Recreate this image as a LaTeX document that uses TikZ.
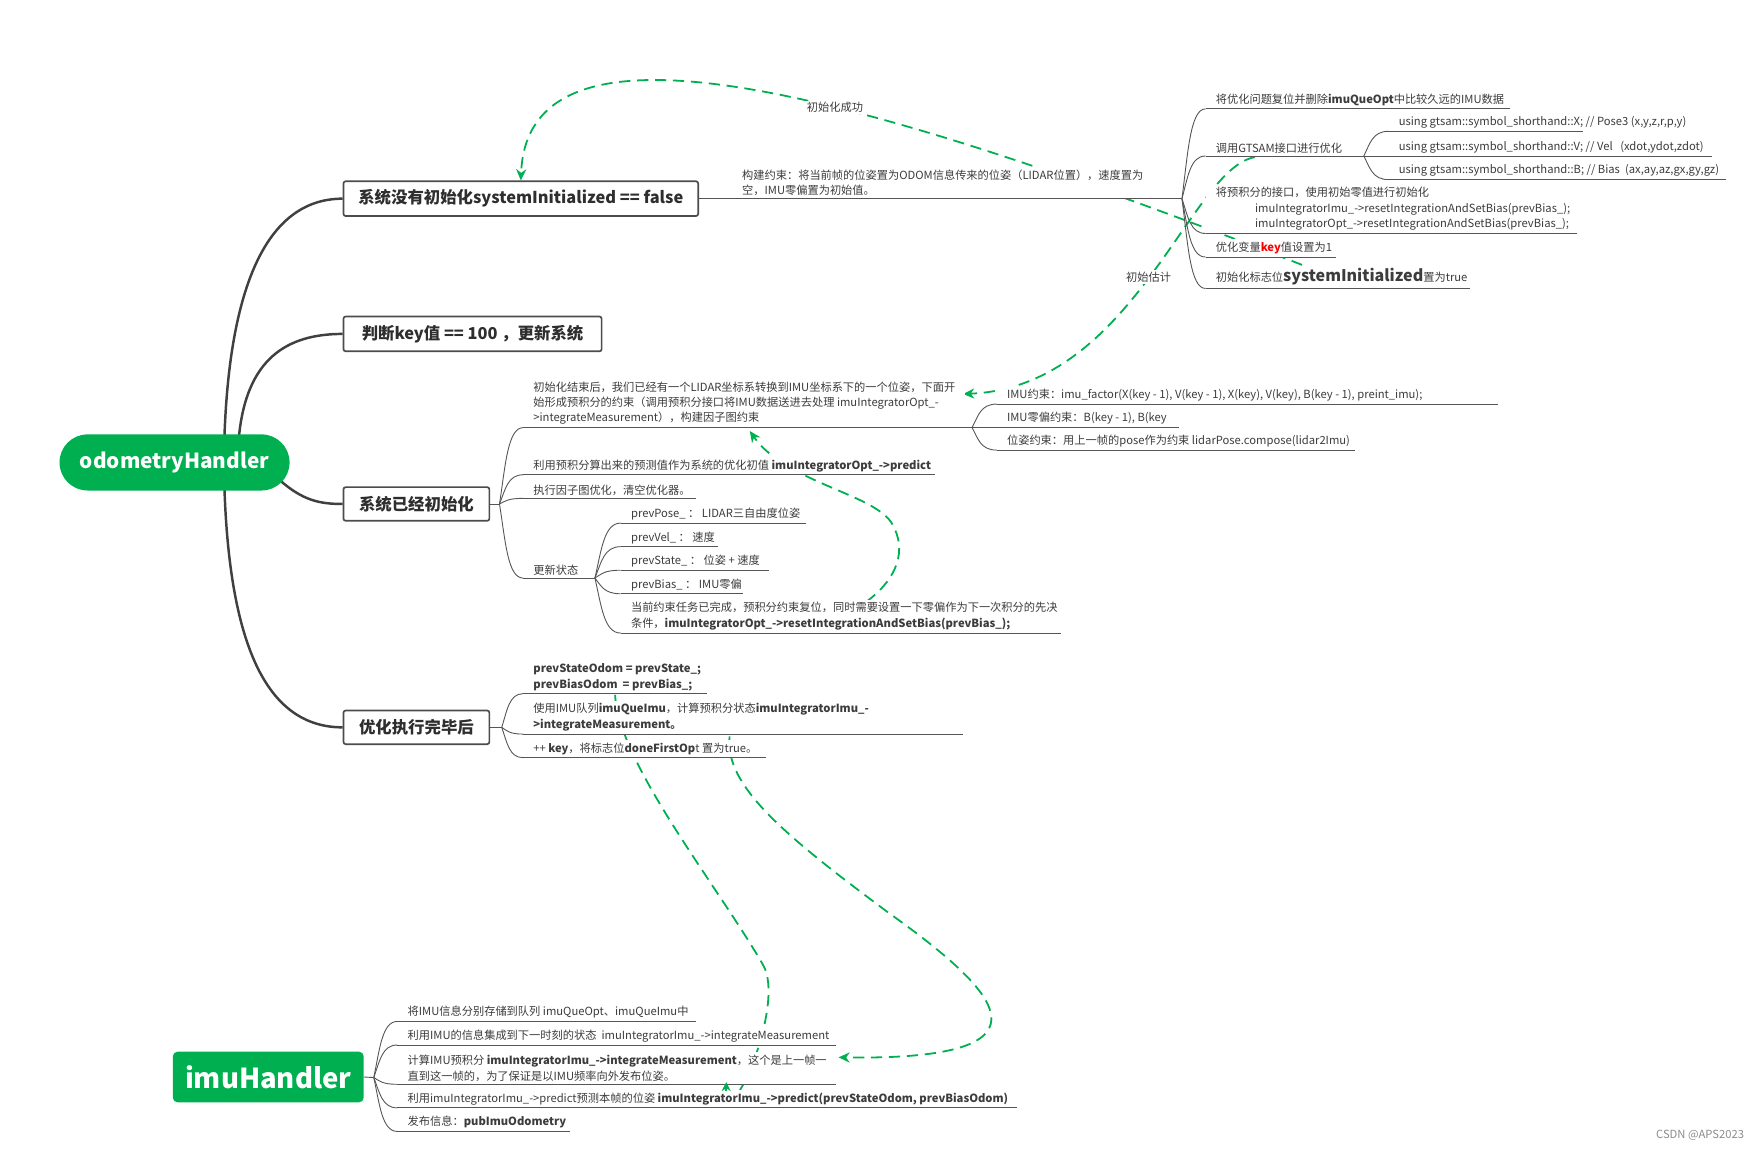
\documentclass[tikz,border=0pt]{standalone}
\usepackage{fontspec}
\setmainfont{Noto Sans CJK SC}
\usetikzlibrary{arrows.meta,calc}
\definecolor{xgreen}{RGB}{0,176,80}
\definecolor{tgray}{RGB}{60,60,60}
\definecolor{lgray}{RGB}{85,85,85}
\pgfdeclarelayer{bg}
\pgfsetlayers{bg,main}
\newcommand\fsn{\fontsize{10}{13.7}\selectfont}
\newcommand\mkleaf[5]{%
  \node[leafnode] (#1) at (#2,#3) {#5};
  \draw[uline] (#1.south west) -- ++(#4-#2,0);}
\tikzset{
  leafnode/.style={anchor=south west, inner xsep=9pt, inner ysep=2.5pt, align=left, fill=white, font=\fsn, text=tgray},
  uline/.style={draw=lgray, line width=0.8pt},
  fan/.style={to path={let \p1=(\tikztostart), \p2=(\tikztotarget) in
     .. controls ({\x1+0.25*(\x2-\x1)},{\y1+0.5*(\y2-\y1)}) and ({\x1+0.35*(\x2-\x1)},\y2) .. (\tikztotarget)}},
  tl/.style={draw=lgray, line width=0.8pt},
  l1line/.style={draw=black!75, line width=2.2pt},
  l1box/.style={draw=black!70, line width=1.5pt, fill=white, rounded corners=2pt,
     font=\fontsize{14.6}{18}\selectfont\bfseries, text=black!82, inner sep=0pt},
  reltip/.style={-{Stealth[length=10pt,width=9pt]}},
  rel/.style={draw=xgreen, line width=1.6pt, dash pattern=on 10pt off 6pt},
  rlabel/.style={fill=white, font=\fsn, text=tgray, inner sep=1.5pt},
}
\begin{document}
\begin{tikzpicture}[x=1pt,y=-1pt]
\useasboundingbox (0,0) rectangle (1568,1024);

% main topics
\node[fill=xgreen, rounded corners=25pt, minimum width=205pt, minimum height=50pt, text=white,
      font=\fontsize{18.5}{22}\selectfont\bfseries, inner sep=0pt] (p) at (155.5,412) {odometryHandler};
\node[fill=xgreen, rounded corners=4pt, minimum width=170pt, minimum height=45pt, text=white,
      font=\fontsize{24.5}{28}\selectfont\bfseries, inner sep=0pt] (imu) at (239,959.5) {imuHandler};

\node[l1box, minimum width=316pt, minimum height=31pt] (b1) at (464,177) {系统没有初始化systemInitialized == false};
\node[l1box, minimum width=230pt, minimum height=31pt] (b2) at (421,297.5) {判断key值 == 100 ，更新系统};
\node[l1box, minimum width=130pt, minimum height=30pt] (b3) at (371,449) {系统已经初始化};
\node[l1box, minimum width=130pt, minimum height=30pt] (b4) at (371,648) {优化执行完毕后};

% junctions
\coordinate (J1) at (1053,177);
\coordinate (J12) at (1215,139);
\coordinate (J3) at (445,449);
\coordinate (JA) at (866,381);
\coordinate (JD) at (530,515);
\coordinate (J4) at (447,648);
\coordinate (J5) at (333,960);

% branch of b1
\node[leafnode] (n0) at (652,177) {构建约束：将当前帧的位姿置为ODOM信息传来的位姿（LIDAR位置），速度置为\\空，IMU零偏置为初始值。};
\mkleaf{n11}{1074}{97}{1345}{将优化问题复位并删除\textbf{imuQueOpt}中比较久远的IMU数据}
\mkleaf{n12}{1074}{139}{1215}{调用GTSAM接口进行优化}
\mkleaf{n121}{1237}{117}{1410}{using gtsam::symbol\_shorthand::X; // Pose3 (x,y,z,r,p,y)}
\mkleaf{n122}{1237}{139}{1525}{using gtsam::symbol\_shorthand::V; // Vel\ \ \ (xdot,ydot,zdot)}
\mkleaf{n123}{1237}{160}{1538}{using gtsam::symbol\_shorthand::B; // Bias\ \ (ax,ay,az,gx,gy,gz)}
\mkleaf{n13}{1074}{208}{1405}{将预积分的接口，使用初始零值进行初始化\\\hspace*{35pt}imuIntegratorImu\_->resetIntegrationAndSetBias(prevBias\_);\\\hspace*{35pt}imuIntegratorOpt\_->resetIntegrationAndSetBias(prevBias\_);}
\mkleaf{n14}{1074}{229}{1190}{优化变量\textcolor{red}{\textbf{key}}值设置为1}
\mkleaf{n15}{1074}{257}{1310}{初始化标志位{\fontsize{14.3}{16}\selectfont\bfseries systemInitialized}置为true}

% branch of b3
\mkleaf{nA}{466}{381}{866}{初始化结束后，我们已经有一个LIDAR坐标系转换到IMU坐标系下的一个位姿，下面开\\始形成预积分的约束（调用预积分接口将IMU数据送进去处理 imuIntegratorOpt\_-\\>integrateMeasurement），构建因子图约束}
\mkleaf{nA1}{888}{360}{1335}{IMU约束：imu\_factor(X(key - 1), V(key - 1), X(key), V(key), B(key - 1), preint\_imu);}
\mkleaf{nA2}{888}{381}{1050}{IMU零偏约束：B(key - 1), B(key}
\mkleaf{nA3}{888}{401}{1207}{位姿约束：用上一帧的pose作为约束 lidarPose.compose(lidar2Imu)}
\mkleaf{nB}{466}{423}{833}{利用预积分算出来的预测值作为系统的优化初值 \textbf{imuIntegratorOpt\_->predict}}
\mkleaf{nC}{466}{444}{620}{执行因子图优化，清空优化器。}
\mkleaf{nD}{466}{515}{530}{更新状态}
\mkleaf{nD1}{553}{466}{718}{prevPose\_ ：\ LIDAR三自由度位姿}
\mkleaf{nD2}{553}{487}{640}{prevVel\_ ：\ 速度}
\mkleaf{nD3}{553}{508}{685}{prevState\_ ：\ 位姿 + 速度}
\mkleaf{nD4}{553}{529}{662}{prevBias\_ ：\ IMU零偏}
\mkleaf{nD5}{553}{564}{945}{当前约束任务已完成，预积分约束复位，同时需要设置一下零偏作为下一次积分的先决\\条件，\textbf{imuIntegratorOpt\_->resetIntegrationAndSetBias(prevBias\_);}}

% branch of b4
\mkleaf{nE1}{466}{618}{630}{\textbf{prevStateOdom = prevState\_;}\\\textbf{prevBiasOdom\ \ = prevBias\_;}}
\mkleaf{nE2}{466}{654}{858}{使用IMU队列\textbf{imuQueImu}，计算预积分状态\textbf{imuIntegratorImu\_-}\\\textbf{>integrateMeasurement。}}
\mkleaf{nE3}{466}{675}{682}{++ \textbf{key}，将标志位\textbf{doneFirstOp}t 置为true。}

% imuHandler branch
\mkleaf{nF1}{354}{910}{620}{将IMU信息分别存储到队列 imuQueOpt、imuQueImu中}
\mkleaf{nF2}{354}{931}{745}{利用IMU的信息集成到下一时刻的状态\ \ imuIntegratorImu\_->integrateMeasurement}
\mkleaf{nF3}{354}{966}{745}{计算IMU预积分 \textbf{imuIntegratorImu\_->integrateMeasurement}，这个是上一帧一\\直到这一帧的，为了保证是以IMU频率向外发布位姿。}
\mkleaf{nF4}{354}{987}{906}{利用imuIntegratorImu\_->predict预测本帧的位姿 \textbf{imuIntegratorImu\_->predict(prevStateOdom, prevBiasOdom)}}
\mkleaf{nF5}{354}{1008}{508}{发布信息：\textbf{pubImuOdometry}}

\node[font=\fontsize{10}{11}\selectfont, text=black!45, anchor=east, inner sep=0pt] (wm) at (1554,1011) {CSDN @APS2023};

% tree lines
\draw[tl] (b1.east) -- (n0.south west) -- (J1);
\foreach \q in {n11,n12,n13,n14,n15} \draw[tl] (J1) to[fan] (\q.south west);
\foreach \q in {n121,n122,n123} \draw[tl] (J12) to[fan] (\q.south west);
\draw[tl] (b3.east) -- (J3);
\foreach \q in {nA,nB,nC,nD} \draw[tl] (J3) to[fan] (\q.south west);
\foreach \q in {nA1,nA2,nA3} \draw[tl] (JA) to[fan] (\q.south west);
\foreach \q in {nD1,nD2,nD3,nD4,nD5} \draw[tl] (JD) to[fan] (\q.south west);
\draw[tl] (b4.east) -- (J4);
\foreach \q in {nE1,nE2,nE3} \draw[tl] (J4) to[fan] (\q.south west);
\draw[tl] (imu.east) -- (J5);
\foreach \q in {nF1,nF2,nF3,nF4,nF5} \draw[tl] (J5) to[fan] (\q.south west);

% visible arrow head of the relation ending under nF3
\draw[rel, -{Stealth[length=8pt,width=8pt]}, dash pattern=] ([shift={(293,6)}]nF3.south west) -- ([shift={(293,-2)}]nF3.south west);

\begin{pgfonlayer}{bg}
% main connectors
\draw[l1line] ([shift={(44.5,1)}]p.north) .. controls (205,250) and (240,177) .. (b1.west);
\draw[l1line] ([shift={(57.5,1)}]p.north) .. controls (220,320) and (255,297.5) .. (b2.west);
\draw[l1line] ([shift={(94,16)}]p.center) .. controls (270,446) and (285,449) .. (b3.west);
\draw[l1line] ([shift={(44.5,-1)}]p.south) .. controls (205,580) and (240,648) .. (b4.west);
% relationships
\draw[rel, reltip] ([shift={(86,-21)}]n15.south west) .. controls (760,80) and (470,0) .. (b1.north)
   node[rlabel,pos=0.4] (lab1) {初始化成功};
\draw[rel, reltip] ([shift={(44,1)}]n12.south west) .. controls (1060,150) and (1010,345) .. ([shift={(392,-30)}]nA.south west)
   node[rlabel,pos=0.5] (lab2) {初始估计};
\draw[rel, reltip] ([shift={(219,-28)}]nD5.south west) .. controls (800,515) and (808,490) .. (795,467)
   .. controls (780,440) and (700,430) .. ([shift={(202,3)}]nA.south west);
\draw[rel] ([shift={(82,1)}]nE1.south west) .. controls (551,680) and (640,790) .. (680,860)
   .. controls (700,895) and (650,1010) .. ([shift={(293,6)}]nF3.south west);
\draw[rel, reltip] ([shift={(184,2)}]nE2.south west) .. controls (645,700) and (700,745) .. (790,812)
   .. controls (885,880) and (955,945) .. ([shift={(393,-24)}]nF3.south west);
\end{pgfonlayer}
\end{tikzpicture}
\end{document}
